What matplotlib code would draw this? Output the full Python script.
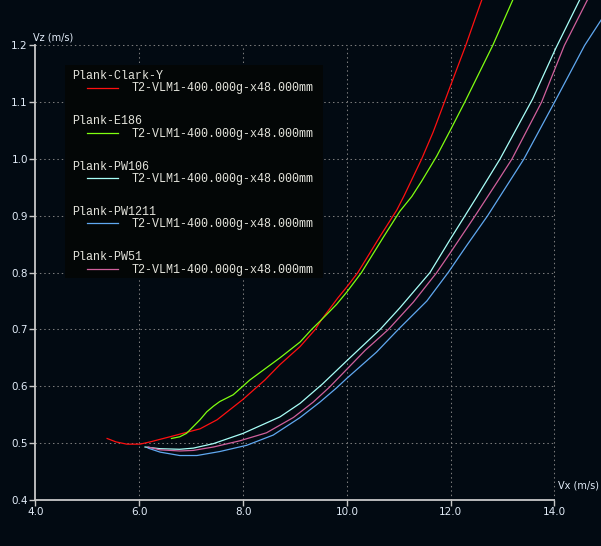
import matplotlib
matplotlib.use("Agg")
import matplotlib.pyplot as plt
from matplotlib.lines import Line2D
from matplotlib.patches import Rectangle

# Polar curves (Vx, Vz in m/s)
clark_x = [5.38, 5.55, 5.76, 6.01, 6.21, 6.59, 7.17, 7.50, 8.00, 8.42, 8.71, 9.10, 9.39,
           9.51, 9.83, 10.00, 10.21, 10.64, 10.96, 11.10, 11.44, 11.66, 11.87, 12.00,
           12.29, 12.47, 12.61]
clark_y = [0.508, 0.502, 0.498, 0.498, 0.502, 0.511, 0.525, 0.541, 0.577, 0.611, 0.638,
           0.670, 0.700, 0.717, 0.756, 0.775, 0.800, 0.864, 0.910, 0.935, 1.000, 1.047,
           1.098, 1.130, 1.200, 1.247, 1.283]

e186_x = [6.62, 6.78, 6.91, 7.04, 7.17, 7.30, 7.43, 7.55, 7.81, 8.13, 8.71, 9.10, 9.32,
          9.51, 9.80, 10.00, 10.28, 10.70, 11.02, 11.25, 11.44, 11.73, 12.00, 12.27,
          12.81, 13.21]
e186_y = [0.508, 0.511, 0.517, 0.529, 0.541, 0.555, 0.565, 0.573, 0.585, 0.611, 0.650,
          0.678, 0.700, 0.717, 0.744, 0.766, 0.800, 0.862, 0.908, 0.934, 0.961, 1.005,
          1.052, 1.100, 1.200, 1.283]

pw106_x = [6.11, 6.40, 6.78, 7.04, 7.43, 8.00, 8.71, 9.10, 9.53, 10.00, 10.64, 11.02,
           11.60, 12.00, 12.24, 12.50, 12.95, 13.58, 14.03, 14.50]
pw106_y = [0.493, 0.490, 0.489, 0.491, 0.499, 0.517, 0.546, 0.570, 0.604, 0.645, 0.700,
           0.738, 0.800, 0.860, 0.895, 0.933, 1.000, 1.106, 1.196, 1.283]

pw1211_x = [6.17, 6.40, 6.78, 7.11, 7.55, 8.07, 8.58, 9.10, 9.48, 9.80, 10.00, 10.57,
            10.99, 11.54, 11.95, 12.31, 12.71, 13.41, 14.00, 14.58, 14.90]
pw1211_y = [0.491, 0.484, 0.478, 0.478, 0.485, 0.496, 0.514, 0.545, 0.572, 0.597, 0.614,
            0.660, 0.700, 0.750, 0.800, 0.848, 0.900, 1.000, 1.100, 1.200, 1.245]

pw51_x = [6.17, 6.40, 6.78, 7.04, 7.43, 7.94, 8.45, 8.97, 9.35, 9.66, 10.00, 10.35,
          10.80, 11.28, 11.73, 12.00, 12.47, 12.92, 13.18, 13.75, 14.19, 14.65]
pw51_y = [0.493, 0.488, 0.486, 0.487, 0.493, 0.504, 0.518, 0.545, 0.572, 0.598, 0.630,
          0.663, 0.700, 0.748, 0.800, 0.836, 0.900, 0.963, 1.000, 1.100, 1.200, 1.283]

names = ["Plank-Clark-Y", "Plank-E186", "Plank-PW106", "Plank-PW1211", "Plank-PW51"]
subtitle = "T2-VLM1-400.000g-x48.000mm"
colors = ["#ff1010", "#80ff10", "#a8fff8", "#60a8f0", "#d0609c"]
series = [(clark_x, clark_y), (e186_x, e186_y), (pw106_x, pw106_y),
          (pw1211_x, pw1211_y), (pw51_x, pw51_y)]

xticks = [4.0, 6.0, 8.0, 10.0, 12.0, 14.0]
yticks = [0.4, 0.5, 0.6, 0.7, 0.8, 0.9, 1.0, 1.1, 1.2]

bg = "#020a12"
axis_col = "#c8c8c8"
text_col = "#e2ecf8"
W, H = 601, 546

fig = plt.figure(figsize=(W / 100, H / 100), dpi=100)
fig.patch.set_facecolor(bg)
ax = fig.add_axes([0, 0, 1, 1])
ax.set_facecolor(bg)
ax.set_xlim(3.316, 14.896)
ax.set_ylim(0.3187, 1.28)

for s in ["top", "right"]:
    ax.spines[s].set_visible(False)
ax.spines["left"].set_position(("data", 4.0))
ax.spines["left"].set_bounds(0.4, 1.2)
ax.spines["bottom"].set_position(("data", 0.4))
ax.spines["bottom"].set_bounds(4.0, 14.0)
for s in ["left", "bottom"]:
    ax.spines[s].set_color(axis_col)
    ax.spines[s].set_linewidth(1.3)

ax.set_xticks(xticks)
ax.set_xticklabels([f"{v:.1f}" for v in xticks])
ax.set_yticks(yticks)
ax.set_yticklabels([f"{v:.1f}" for v in yticks])
ax.tick_params(direction="out", length=4, width=1, color=axis_col,
               labelcolor=text_col, labelsize=7.5, pad=1.5)

# dotted grid, only inside the axis box
dots = (0, (1.4, 2.8))
ax.vlines(xticks[1:], 0.4, 1.2, colors="#7c7c7c", linestyles=dots, lw=0.75, zorder=1)
ax.hlines(yticks[1:], 4.0, 14.0, colors="#7c7c7c", linestyles=dots, lw=0.75, zorder=1)

for (xs, ys), c in zip(series, colors):
    ax.plot(xs, ys, color=c, lw=0.9, zorder=3)

ax.annotate("Vz (m/s)", xy=(4.0, 1.2), xytext=(-1.5, 5.8), textcoords="offset points",
            ha="left", va="center", fontsize=7, color=text_col)
ax.annotate("Vx (m/s)", xy=(14.0, 0.4), xytext=(2.5, 10), textcoords="offset points",
            ha="left", va="center", fontsize=7, color=text_col)

# legend box drawn by hand (pixel layout of the original)
def fx(px):
    return px / W

def fy(py):
    return 1 - py / H

ax.add_patch(Rectangle((fx(65), fy(278)), fx(323) - fx(65), fy(65) - fy(278),
                       transform=fig.transFigure, facecolor="#030606",
                       edgecolor="none", zorder=5))
mono = "Liberation Mono"
leg_col = "#e4e4dc"
for i, (name, c) in enumerate(zip(names, colors)):
    ty = 76 + i * 45.3
    fig.text(fx(72), fy(ty), name, family=mono, fontsize=8.4, color=leg_col,
             va="center", ha="left", zorder=6)
    fig.add_artist(Line2D([fx(87), fx(118)], [fy(ty + 11.5)] * 2, color=c, lw=0.9,
                          transform=fig.transFigure, zorder=6))
    fig.text(fx(132), fy(ty + 12.5), subtitle, family=mono, fontsize=8.4,
             color=leg_col, va="center", ha="left", zorder=6)

fig.savefig("out.png", dpi=100, facecolor=bg)
